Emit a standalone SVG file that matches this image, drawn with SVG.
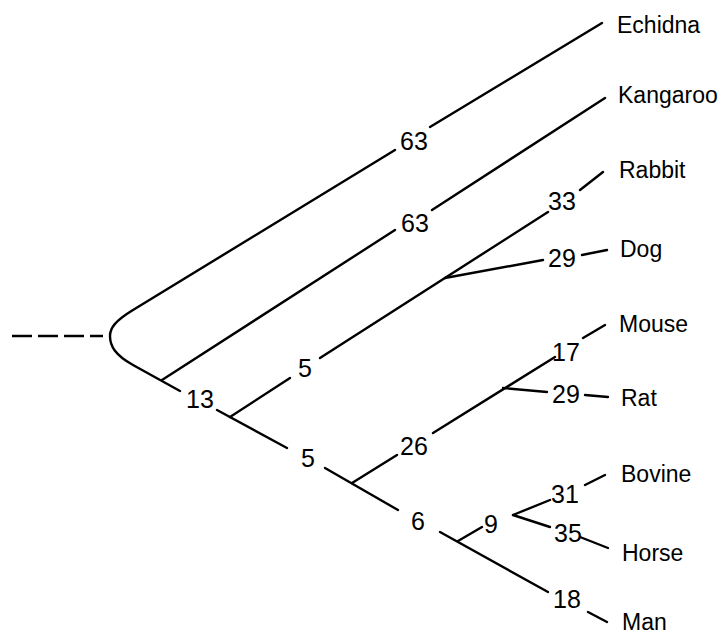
<svg xmlns="http://www.w3.org/2000/svg" width="723" height="635" viewBox="0 0 723 635">
<style>
.br{fill:none;stroke:#000;stroke-width:2.4;stroke-linecap:round;stroke-linejoin:round}
.dash{stroke-dasharray:20 6;stroke-linecap:butt}
text{font-family:"Liberation Sans",Arial,sans-serif;font-size:23px;fill:#000}
.num{text-anchor:middle;font-size:25px}
</style>
<rect width="723" height="635" fill="#fff"/>
<g id="connectors">
<path class="br dash" d="M12 336 L103 336"/>
<path class="br" d="M395 150 L133 310 C115 321 110 328 110 336 C110 346 115 355 133 365 L180 391"/>
<path class="br" d="M430 127 L602 23"/>
<path class="br" d="M162 380 L395 230 M432 210 L605 98"/>
<path class="br" d="M217 410 L287 448 M325 468 L398 510 M440 532 L548 592 M588 612 L607 622"/>
<path class="br" d="M230 417 L290 378 M320 358 L548 212 M580 190 L603 172"/>
<path class="br" d="M445 278 L543 260 M582 255 L607 250"/>
<path class="br" d="M352 483 L397 455 M433 433 L555 357 M583 338 L605 325"/>
<path class="br" d="M503 388 L547 392 M585 395 L608 397"/>
<path class="br" d="M458 541 L482 527"/>
<path class="br" d="M513 515 L550 500 M585 485 L605 475"/>
<path class="br" d="M513 515 L550 527 M580 537 L608 548"/>
</g>
<g id="branch-labels">
<text class="num" x="414" y="150">63</text>
<text class="num" x="415" y="232">63</text>
<text class="num" x="562" y="210">33</text>
<text class="num" x="562" y="267">29</text>
<text class="num" x="200" y="408">13</text>
<text class="num" x="305" y="377">5</text>
<text class="num" x="308" y="467">5</text>
<text class="num" x="414" y="455">26</text>
<text class="num" x="566" y="361">17</text>
<text class="num" x="566" y="403">29</text>
<text class="num" x="418" y="530">6</text>
<text class="num" x="491" y="533">9</text>
<text class="num" x="565" y="503">31</text>
<text class="num" x="568" y="542">35</text>
<text class="num" x="567" y="608">18</text>
</g>
<g id="echidna"><text x="617" y="33">Echidna</text></g>
<g id="kangaroo"><text x="618" y="103">Kangaroo</text></g>
<g id="rabbit"><text x="619" y="178">Rabbit</text></g>
<g id="dog"><text x="620" y="257">Dog</text></g>
<g id="mouse"><text x="619" y="332">Mouse</text></g>
<g id="rat"><text x="621" y="406">Rat</text></g>
<g id="bovine"><text x="621" y="482">Bovine</text></g>
<g id="horse"><text x="622" y="561">Horse</text></g>
<g id="man"><text x="622" y="630">Man</text></g>
</svg>
